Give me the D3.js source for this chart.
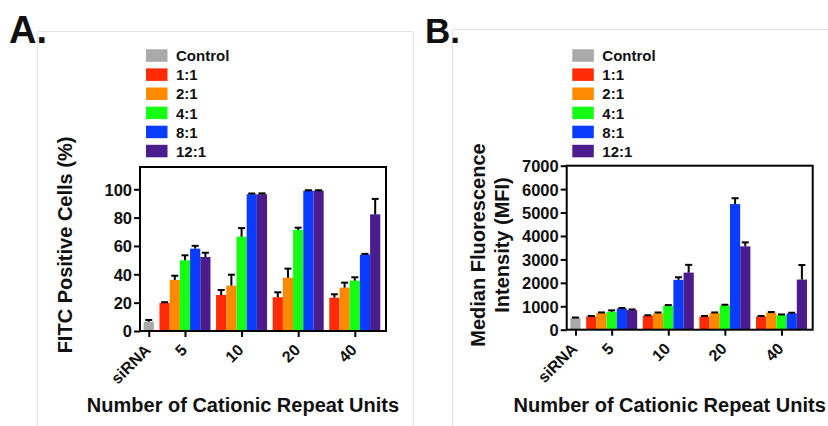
<!DOCTYPE html>
<html>
<head>
<meta charset="UTF-8" />
<title>FITC / MFI bars</title>
<script src="https://d3js.org/d3.v7.min.js"></script>
<style>
  body { margin: 0; background: #fff; }
  svg text { font-family: "Liberation Sans", Arial, sans-serif; font-weight: bold; fill: #111; }
</style>
</head>
<body>
<script>
// categories and series
var groups = ["siRNA", "5", "10", "20", "40"];
var series = ["Control", "1:1", "2:1", "4:1", "8:1", "12:1"];
var colors = ["#a9a9a9", "#ff2a06", "#ff8a00", "#14ff14", "#0a3cff", "#4b1c8e"];

// panel A: FITC positive cells (%), one array per group (siRNA has control only)
var fitcMean = [[6.6], [19.8, 36, 49.9, 58.1, 52.2], [25.4, 32, 66.6, 96.5, 96.5], [23.8, 37.6, 71.3, 99, 99], [23.5, 30.6, 35.5, 53.9, 82.3]];
var fitcErr  = [[1.2], [0.5, 3, 3.5, 2, 3], [3.5, 7.7, 6, 0.5, 0.6], [3.5, 6.4, 1.6, 0.3, 0.3], [2.4, 3.5, 2.4, 0.5, 10.9]];
var fitcTicks = [0, 20, 40, 60, 80, 100];

// panel B: median fluorescence intensity
var mfiMean = [[500], [566, 706, 766, 906, 834], [596, 694, 1021, 2128, 2438], [566, 706, 1035, 5362, 3557], [566, 723, 621, 694, 2140]];
var mfiErr  = [[20], [20, 30, 60, 20, 30], [20, 40, 30, 110, 330], [20, 30, 30, 250, 170], [20, 30, 30, 30, 620]];
var mfiTicks = [0, 1000, 2000, 3000, 4000, 5000, 6000, 7000];

var xTitle = "Number of Cationic Repeat Units";

var svg = d3.select("body").append("svg").attr("width", 828).attr("height", 426);

// layout in "bar units": every bar is 1 unit, gaps between groups
var gapU = 0.55, padL = 0.36, padR = 0.56;
var slots = [], centers = [];
(function() {
  var u = padL;
  fitcMean.forEach(function(g, gi) {
    var start = u;
    g.forEach(function(v, bi) { slots.push({g: gi, b: bi, x0: u}); u += 1; });
    centers.push((start + u) / 2);
    u += gapU;
  });
  slots.totalU = u - gapU + padR;
})();

function drawPanel(o) {
  // light panel border
  svg.append("path")
    .attr("d", "M" + o.bx + "," + 440 + "V" + o.by + "H" + o.br + (o.br < 828 ? "V440" : ""))
    .attr("fill", "none").attr("stroke", "#e4e4e4").attr("stroke-width", 1);

  svg.append("text").attr("x", o.lx).attr("y", 43).style("font-size", o.lsize + "px").text(o.letter);

  var g = svg.append("g").attr("transform", "translate(" + o.left + "," + o.top + ")");
  var w = 246, h = 164;
  var x = d3.scaleLinear().domain([0, slots.totalU]).range([0, w]);
  var y = d3.scaleLinear().domain([0, o.ymax]).range([h, 0]);
  var bw = x(1) - x(0);

  slots.forEach(function(s) {
    var ci = s.g === 0 ? 0 : s.b + 1;
    var v = o.mean[s.g][s.b], e = o.err[s.g][s.b];
    g.append("rect").attr("x", x(s.x0)).attr("width", bw)
      .attr("y", y(v)).attr("height", h - y(v)).attr("fill", colors[ci]);
    var cx = x(s.x0 + 0.5);
    g.append("line").attr("x1", cx).attr("x2", cx).attr("y1", y(v)).attr("y2", y(v + e))
      .attr("stroke", "#000").attr("stroke-width", 2);
    g.append("line").attr("x1", cx - 3.5).attr("x2", cx + 3.5).attr("y1", y(v + e)).attr("y2", y(v + e))
      .attr("stroke", "#000").attr("stroke-width", 2);
  });

  var ya = g.append("g").call(d3.axisLeft(y).tickValues(o.ticks).tickSize(6).tickPadding(2).tickFormat(d3.format("d")));
  ya.select(".domain").remove();
  ya.selectAll("line").attr("stroke", "#000").attr("stroke-width", 2);
  ya.selectAll("text").style("font-size", "16.5px").attr("dy", "0.36em").attr("fill", "#111");

  var xa = g.append("g").attr("transform", "translate(0," + h + ")")
    .call(d3.axisBottom(x).tickValues(centers).tickSize(6).tickFormat(""));
  xa.select(".domain").remove();
  xa.selectAll("line").attr("stroke", "#000").attr("stroke-width", 2);

  // rotated category labels
  centers.forEach(function(c, i) {
    svg.append("text")
      .attr("transform", "translate(" + (o.left + x(c) + 3) + "," + (o.top + h + 20) + ") rotate(-45)")
      .attr("text-anchor", "end").style("font-size", "16px").text(groups[i]);
  });

  g.append("rect").attr("width", w).attr("height", h)
    .attr("fill", "none").attr("stroke", "#000").attr("stroke-width", 2);

  // legend
  series.forEach(function(s, i) {
    var ly = 49.3 + i * 19.1;
    svg.append("rect").attr("x", o.legX).attr("y", ly).attr("width", 21.5).attr("height", 12.5).attr("fill", colors[i]);
    svg.append("text").attr("x", o.legX + 30).attr("y", ly + 6.5).attr("dy", "0.36em")
      .style("font-size", "15px").text(s);
  });

  // axis titles
  svg.append("text").attr("x", o.left + w / 2 + o.xtShift).attr("y", 412)
    .attr("text-anchor", "middle").style("font-size", "20px").text(xTitle);
  o.ytitle.forEach(function(t, i) {
    svg.append("text").attr("transform", "translate(" + (o.ytx + i * 24) + ",245) rotate(-90)")
      .attr("text-anchor", "middle").style("font-size", "20px").text(t);
  });
}

drawPanel({letter: "A.", lx: 9, lsize: 38, bx: 37.5, by: 31.5, br: 413.5,
  left: 140, top: 167, ymax: 115.7, mean: fitcMean, err: fitcErr, ticks: fitcTicks,
  legX: 146, ytitle: ["FITC Positive Cells (%)"], ytx: 72, xtShift: -20});
drawPanel({letter: "B.", lx: 425, lsize: 35, bx: 452.5, by: 29.5, br: 830,
  left: 566.7, top: 165.7, ymax: 7000, mean: mfiMean, err: mfiErr, ticks: mfiTicks,
  legX: 572.3, ytitle: ["Median Fluorescence", "Intensity (MFI)"], ytx: 485, xtShift: -20});
</script>
</body>
</html>
